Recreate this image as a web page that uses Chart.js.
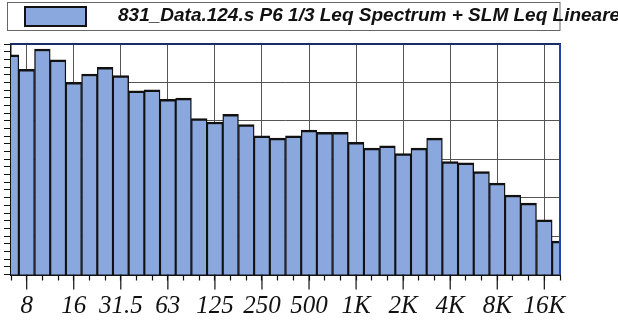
<!DOCTYPE html>
<html><head><meta charset="utf-8">
<script src="https://cdn.jsdelivr.net/npm/chart.js@4"></script>
<style>html,body{margin:0;padding:0;background:#fff;}canvas{display:block;}</style>
</head><body>
<canvas id="c" width="618" height="320"></canvas>
<script>
const seriesLabel = '831_Data.124.s P6 1/3 Leq Spectrum + SLM Leq Lineare';
const bands = ['6.3','8','10','12.5','16','20','25','31.5','40','50','63','80','100','125','160','200','250','315','400','500','630','800','1K','1.25K','1.6K','2K','2.5K','3.15K','4K','5K','6.3K','8K','10K','12.5K','16K','20K'];
const levels = [77.2,73.4,78.7,75.9,70.0,72.2,73.9,71.8,67.8,68.1,65.6,65.9,60.6,59.7,61.7,59.0,56.1,55.5,56.1,57.6,57.0,57.0,54.4,52.9,53.5,51.5,52.9,55.5,49.4,49.1,46.8,43.8,40.7,38.6,34.2,28.7];
const tickLabels = ['8','16','31.5','63','125','250','500','1K','2K','4K','8K','16K'];
const yMin = 20, yMax = 80, yMajor = 10, yMinor = 2;

const decor = {
  id: 'decor',
  afterDraw(chart) {
    const {ctx, chartArea: a} = chart;
    const x = chart.scales.x;
    ctx.save();
    ctx.strokeStyle = '#111'; ctx.lineWidth = 1.2;
    bands.forEach((b, i) => {
      if (!tickLabels.includes(b)) return;
      const px = x.getPixelForValue(i);
      ctx.beginPath(); ctx.moveTo(px, a.bottom); ctx.lineTo(px, a.bottom + 15); ctx.stroke();
    });
    ctx.lineWidth = 2; ctx.strokeStyle = '#1b2b66';
    ctx.beginPath(); ctx.moveTo(a.left - 1, a.top); ctx.lineTo(a.right + 1, a.top); ctx.stroke();
    ctx.strokeStyle = '#2444a8';
    ctx.beginPath(); ctx.moveTo(a.right, a.top); ctx.lineTo(a.right, a.bottom); ctx.stroke();
    const ds = chart.data.datasets[0];
    ctx.lineWidth = 1; ctx.strokeStyle = '#666';
    ctx.strokeRect(7.5, 2.5, a.right - 7.5, 28);
    ctx.fillStyle = ds.backgroundColor; ctx.fillRect(24, 6, 63, 21);
    ctx.lineWidth = 2; ctx.strokeStyle = '#111'; ctx.strokeRect(25, 7, 61, 19);
    ctx.fillStyle = '#111';
    ctx.font = 'italic bold 19px "Liberation Sans", Arial, sans-serif';
    ctx.textBaseline = 'alphabetic'; ctx.textAlign = 'left';
    ctx.fillText(ds.label, 118, 21);
    ctx.restore();
  }
};

new Chart(document.getElementById('c'), {
  type: 'bar',
  data: {
    labels: bands,
    datasets: [{
      label: seriesLabel,
      data: levels,
      backgroundColor: '#8aa8de',
      borderColor: '#111',
      borderWidth: {top: 2.5, left: 1.4, right: 1.4, bottom: 0},
      borderSkipped: 'start',
      barPercentage: 1,
      categoryPercentage: 1,
      clip: 0
    }]
  },
  options: {
    responsive: false,
    animation: false,
    layout: {padding: {top: 44, left: 1, right: 58, bottom: 0}},
    plugins: {legend: {display: false}, tooltip: {enabled: false}},
    scales: {
      x: {
        offset: false,
        grid: {
          offset: false,
          color: c => tickLabels.includes(bands[c.index]) ? '#555' : 'rgba(0,0,0,0)',
          lineWidth: 1,
          tickLength: 6,
          tickColor: '#111',
          tickWidth: 1.2
        },
        border: {color: '#111', width: 2},
        ticks: {
          autoSkip: false, maxRotation: 0, minRotation: 0, padding: 11,
          color: '#111',
          font: {family: '"Liberation Serif", "Times New Roman", serif', style: 'italic', size: 25},
          callback: function (v) { const l = this.getLabelForValue(v); return tickLabels.includes(l) ? l : ''; }
        },
        afterFit: s => { s.height = 45.5; }
      },
      y: {
        min: yMin, max: yMax,
        grid: {
          color: c => (c.tick && c.tick.value % yMajor === 0) ? '#555' : 'rgba(0,0,0,0)',
          lineWidth: 1,
          tickLength: 7,
          tickColor: '#111',
          tickWidth: 1
        },
        border: {color: '#111', width: 1.5},
        ticks: {stepSize: yMinor, display: false}
      }
    }
  },
  plugins: [decor]
});
</script>
</body></html>
